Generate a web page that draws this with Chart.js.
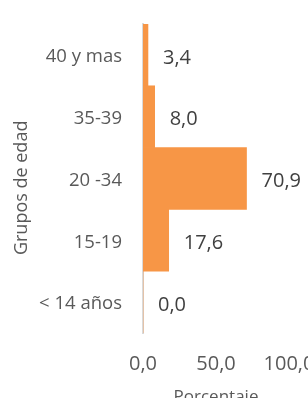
<!DOCTYPE html>
<html lang="es">
<head>
  <meta charset="UTF-8">
  <title>Grupos de edad</title>
  <script src="https://cdn.jsdelivr.net/npm/chart.js"></script>
  <style>
    html, body {
      margin: 0;
      padding: 0;
      background: #fff;
      overflow: hidden;
    }
    .wrap {
      width: 308px;
      height: 398px;
      overflow: hidden;
    }
  </style>
</head>
<body>
  <div class="wrap">
    <canvas id="edadChart" width="308" height="410"></canvas>
  </div>

  <script>
    const grupos = ['40 y mas', '35-39', '20 -34', '15-19', '< 14 años'];
    const porcentajes = [3.4, 8.0, 70.9, 17.6, 0.0];
    const xTicks = [0, 50, 100];

    const fontFamily = "'Open Sans', sans-serif";
    const axisGray = '#595959';
    const fmt = v => Number(v).toFixed(1).replace('.', ',');

    // labels at the end of each bar
    const barValues = {
      id: 'barValues',
      afterDatasetsDraw(chart) {
        const ctx = chart.ctx;
        const meta = chart.getDatasetMeta(0);
        ctx.save();
        ctx.font = '20px ' + fontFamily;
        ctx.fillStyle = '#404040';
        ctx.textAlign = 'left';
        ctx.textBaseline = 'middle';
        meta.data.forEach((bar, i) => {
          ctx.fillText(fmt(porcentajes[i]), bar.x + 15, bar.y + 3);
        });
        ctx.restore();
      }
    };

    new Chart(document.getElementById('edadChart').getContext('2d'), {
      type: 'bar',
      data: {
        labels: grupos,
        datasets: [{
          data: porcentajes,
          backgroundColor: '#f79646',
          borderWidth: 0,
          barPercentage: 1,
          categoryPercentage: 1
        }]
      },
      options: {
        indexAxis: 'y',
        responsive: false,
        animation: false,
        layout: { padding: { top: 24, right: 19, bottom: 0, left: 0 } },
        plugins: {
          legend: { display: false },
          tooltip: { enabled: false }
        },
        scales: {
          x: {
            min: 0,
            max: 100,
            afterBuildTicks: s => { s.ticks = xTicks.map(v => ({ value: v })); },
            afterFit: s => { s.height = 77; s.paddingLeft = 0; s.paddingRight = 0; },
            grid: { display: false, drawTicks: false },
            border: { display: false },
            ticks: {
              padding: 19,
              color: axisGray,
              font: { family: fontFamily, size: 20 },
              maxRotation: 0,
              callback: v => fmt(v)
            },
            title: {
              display: true,
              text: 'Porcentaje',
              color: axisGray,
              font: { family: fontFamily, size: 17 },
              padding: { top: 0, bottom: 3 }
            }
          },
          y: {
            afterFit: s => { s.width = 143; s.paddingTop = 0; s.paddingBottom = 0; },
            grid: { display: false, drawTicks: false },
            border: { display: true, color: '#d9d9d9', width: 2 },
            ticks: {
              padding: 21,
              labelOffset: 2,
              color: axisGray,
              font: { family: fontFamily, size: 18.5 }
            },
            title: {
              display: true,
              // trailing spaces push the title a little below the axis middle, as in the original
              text: 'Grupos de edad    ',
              color: axisGray,
              font: { family: fontFamily, size: 18 },
              padding: { top: 11, bottom: 0 }
            }
          }
        }
      },
      plugins: [barValues]
    });
  </script>
</body>
</html>
